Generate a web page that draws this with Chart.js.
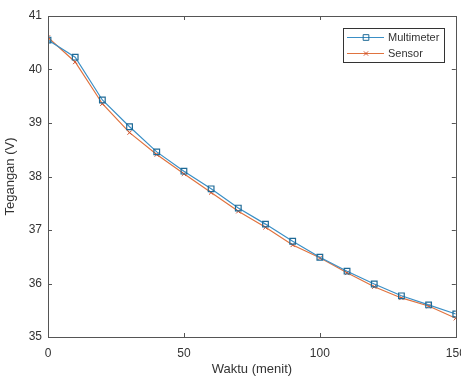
<!DOCTYPE html>
<html>
<head>
<meta charset="utf-8">
<script src="https://cdn.jsdelivr.net/npm/chart.js@4.4.0/dist/chart.umd.min.js"></script>
<style>
  html, body { margin: 0; padding: 0; background: #fff; }
  #wrap { width: 461px; height: 378px; position: relative; }
</style>
</head>
<body>
<div id="wrap"><canvas id="chart" width="461" height="378"></canvas></div>
<script>
// Data
var waktu = [0, 10, 20, 30, 40, 50, 60, 70, 80, 90, 100, 110, 120, 130, 140, 150];
var multimeter = [40.55, 40.23, 39.43, 38.93, 38.46, 38.10, 37.77, 37.41, 37.11, 36.79, 36.49, 36.23, 35.99, 35.77, 35.60, 35.43];
var sensor = [40.60, 40.14, 39.36, 38.82, 38.41, 38.05, 37.70, 37.35, 37.05, 36.72, 36.48, 36.20, 35.94, 35.73, 35.58, 35.35];
var xTicks = [0, 50, 100, 150];
var yTicks = [35, 36, 37, 38, 39, 40, 41];

var BLUE = '#3a8fc6';
var BLUE_MARK = '#1f6a96';
var ORANGE = '#e0733f';
var ORANGE_MARK = '#d0502a';
var AXIS = '#555555';
var TEXT = '#333333';
var FONT = '"Liberation Sans", Arial, sans-serif';

function toPoints(xs, ys) {
  return xs.map(function(x, i) { return { x: x, y: ys[i] }; });
}

// MATLAB-style box with inward ticks, plus a legend inside the axes
var boxPlugin = {
  id: 'matlabBox',
  afterDatasetsDraw: function(chart) {
    var ctx = chart.ctx;
    var a = chart.chartArea;
    var xs = chart.scales.x, ys = chart.scales.y;
    ctx.save();
    ctx.strokeStyle = AXIS;
    ctx.lineWidth = 1;
    ctx.strokeRect(Math.round(a.left) + 0.5, Math.round(a.top) + 0.5,
      Math.round(a.right - a.left), Math.round(a.bottom - a.top));
    var t = 4;
    ctx.beginPath();
    xTicks.forEach(function(v) {
      var px = Math.round(xs.getPixelForValue(v)) + 0.5;
      ctx.moveTo(px, a.bottom); ctx.lineTo(px, a.bottom - t);
      ctx.moveTo(px, a.top); ctx.lineTo(px, a.top + t);
    });
    yTicks.forEach(function(v) {
      var py = Math.round(ys.getPixelForValue(v)) + 0.5;
      ctx.moveTo(a.left, py); ctx.lineTo(a.left + t, py);
      ctx.moveTo(a.right, py); ctx.lineTo(a.right - t, py);
    });
    ctx.stroke();

    // legend box
    var lx = 343, ly = 28, lw = 101, lh = 34;
    ctx.fillStyle = '#ffffff';
    ctx.fillRect(lx, ly, lw, lh);
    ctx.strokeStyle = '#333333';
    ctx.strokeRect(lx + 0.5, ly + 0.5, lw, lh);
    ctx.font = '11px ' + FONT;
    ctx.textBaseline = 'middle';
    chart.data.datasets.forEach(function(ds, i) {
      var y = ly + 9 + i * 16;
      ctx.strokeStyle = ds.borderColor;
      ctx.lineWidth = 1;
      ctx.beginPath();
      ctx.moveTo(lx + 4, y + 0.5); ctx.lineTo(lx + 41, y + 0.5);
      ctx.stroke();
      ctx.strokeStyle = ds.pointBorderColor;
      ctx.fillStyle = 'rgba(0,0,0,0)';
      Chart.helpers.drawPoint(ctx, {
        pointStyle: ds.pointStyle, radius: ds.pointRadius, rotation: 0,
        borderWidth: 1
      }, lx + 23, y + 0.5);
      ctx.fillStyle = TEXT;
      ctx.fillText(ds.label, lx + 45, y + 1);
    });
    ctx.restore();
  }
};

new Chart(document.getElementById('chart'), {
  type: 'scatter',
  data: {
    datasets: [
      {
        label: 'Multimeter',
        data: toPoints(waktu, multimeter),
        showLine: true,
        borderColor: BLUE,
        borderWidth: 1.2,
        pointStyle: 'rect',
        pointRadius: 4,
        pointBorderColor: BLUE_MARK,
        pointBackgroundColor: 'rgba(0,0,0,0)',
        pointBorderWidth: 1.2,
        tension: 0
      },
      {
        label: 'Sensor',
        data: toPoints(waktu, sensor),
        showLine: true,
        borderColor: ORANGE,
        borderWidth: 1.2,
        pointStyle: 'crossRot',
        pointRadius: 3,
        pointBorderColor: ORANGE_MARK,
        pointBorderWidth: 1,
        tension: 0
      }
    ]
  },
  options: {
    responsive: false,
    animation: false,
    layout: { padding: { top: 16, right: 5, left: 0, bottom: 0 } },
    plugins: { legend: { display: false }, tooltip: { enabled: false } },
    scales: {
      x: {
        type: 'linear',
        min: 0, max: 150,
        afterBuildTicks: function(s) { s.ticks = xTicks.map(function(v) { return { value: v }; }); },
        afterFit: function(s) { s.height = 41; s.paddingLeft = 0; s.paddingRight = 0; },
        grid: { display: false, drawTicks: false },
        border: { display: false },
        ticks: { color: TEXT, font: { family: FONT, size: 12 }, padding: 9, maxRotation: 0, autoSkip: false },
        title: { display: true, text: 'Waktu (menit)', color: TEXT, font: { family: FONT, size: 13 }, padding: { top: 0, bottom: 1 } }
      },
      y: {
        min: 35, max: 41,
        afterBuildTicks: function(s) { s.ticks = yTicks.map(function(v) { return { value: v }; }); },
        afterFit: function(s) { s.width = 48; s.paddingTop = 0; s.paddingBottom = 0; },
        grid: { display: false, drawTicks: false },
        border: { display: false },
        ticks: { color: TEXT, font: { family: FONT, size: 12 }, padding: 6, autoSkip: false },
        title: { display: true, text: 'Tegangan (V)', color: TEXT, font: { family: FONT, size: 13 }, padding: { top: 3, bottom: 0 } }
      }
    }
  },
  plugins: [boxPlugin]
});
</script>
</body>
</html>
